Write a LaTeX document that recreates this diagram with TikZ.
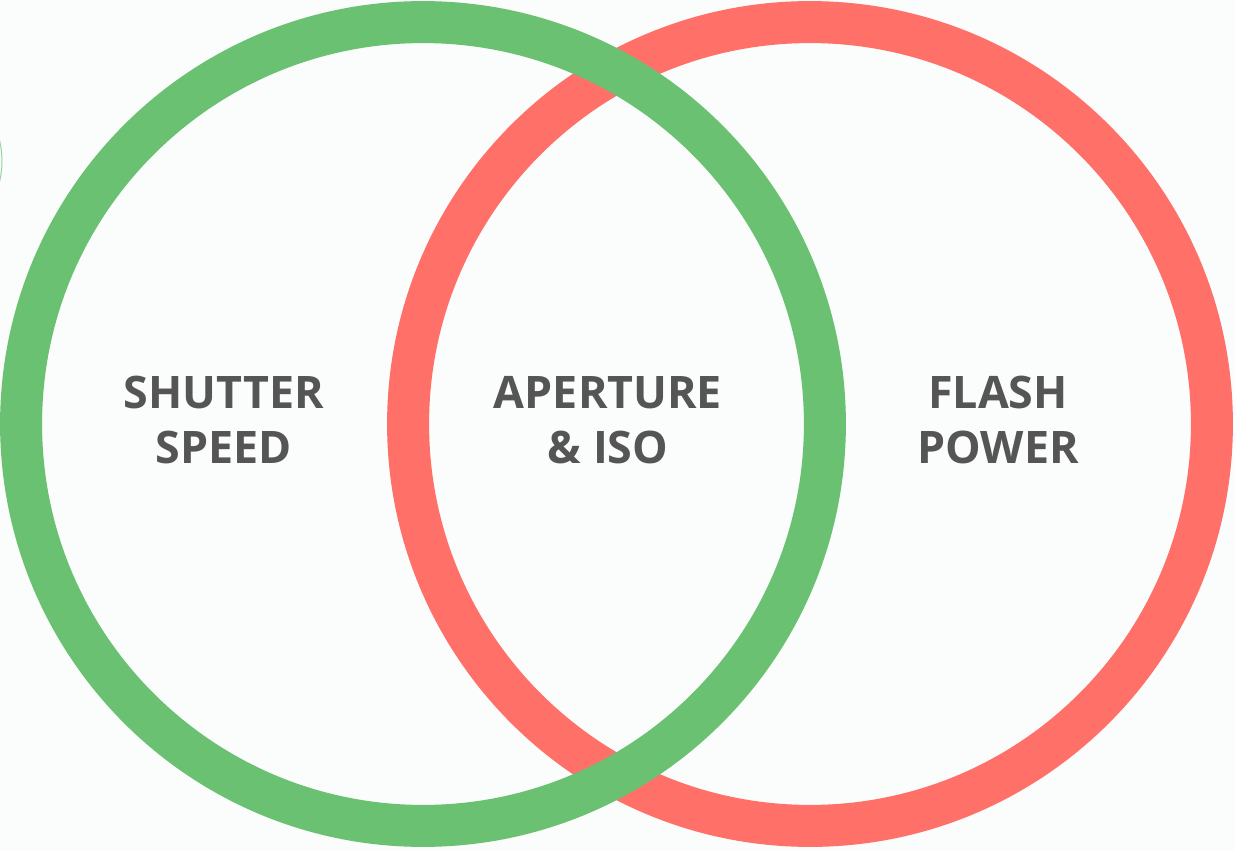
\documentclass[tikz,border=0pt]{standalone}
\usepackage{fontspec}
\setsansfont{Open Sans}
\definecolor{paper}{HTML}{FBFCFC}
\definecolor{ringgreen}{HTML}{6BC172}
\definecolor{ringred}{HTML}{FF7068}
\definecolor{labeltext}{HTML}{555555}
\usetikzlibrary{positioning}

\begin{document}
\begin{tikzpicture}[x=0.02cm, y=-0.02cm,
				ring/.style={line width=0.84cm},
				label/.style={text=labeltext, font=\sffamily\bfseries\fontsize{25.5}{31.5}\selectfont, align=center, inner sep=0pt}
			]
			% Canvas
			\fill[paper] (0, 0) rectangle (1234, 851);
			\useasboundingbox (0, 0) rectangle (1234, 851);

			% Stray arc at the left edge
			\draw[ringgreen!70, line width=0.02cm] (-87, 161) ++(-13.6:1.78cm) arc[start angle=-13.6, end angle=13.6, radius=1.78cm];

			% Red ring (under)
			\draw[ring, ringred] (810, 424) circle[radius=8.04cm];

			% Green ring (over)
			\draw[ring, ringgreen] (423, 424) circle[radius=8.04cm];

			% Labels
			\node[label] (shutter) at (224, 420) {SHUTTER\\SPEED};
			\node[label] (aperture) at (608, 420) {APERTURE\\\& ISO};
			\node[label] (flash) at (998, 420) {FLASH\\POWER};
		\end{tikzpicture}
\end{document}
